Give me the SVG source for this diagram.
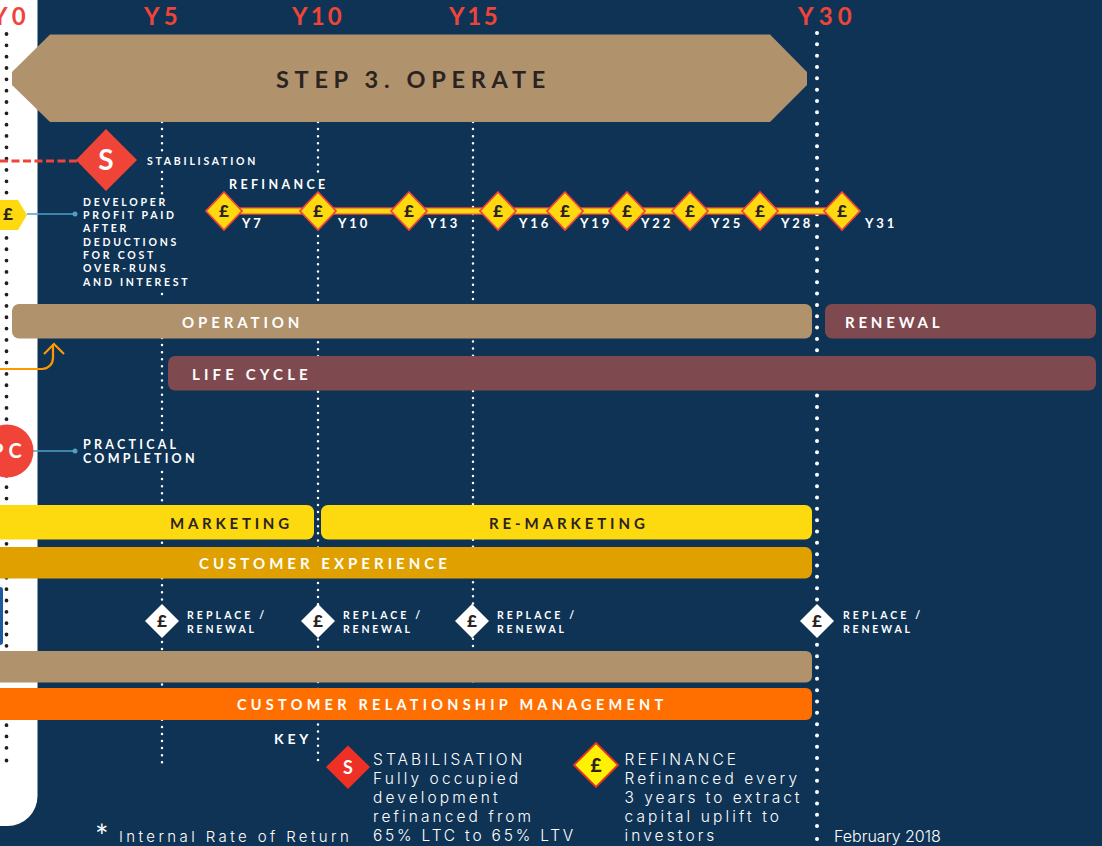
<svg xmlns="http://www.w3.org/2000/svg" width="1102" height="846" viewBox="0 0 1102 846">
<style>
text{font-family:"Lato","Liberation Sans",sans-serif;font-weight:700}
.yr{fill:#f04438;font-size:24px;letter-spacing:4.2px}
.wl{fill:#fff;font-size:10.500px;letter-spacing:2.750px}
.rp{fill:#fff;font-size:10.500px;letter-spacing:3.100px}
.rn{letter-spacing:2.800px}
.bar{font-size:15px;letter-spacing:3.900px;fill:#fff}
.dk{fill:#2a2320}
.ykey{fill:#fff;font-size:13px;letter-spacing:2.900px}
.key{fill:#fff;font-family:"Inter","Liberation Sans",sans-serif;font-weight:300;font-size:15.500px;letter-spacing:3.100px}
.pd{font-size:17px;font-weight:900;fill:#2a2320;text-anchor:middle}
.ref{fill:#ffd910;stroke:#f04438;stroke-width:1.800}
.wh{stroke:#fff;stroke-width:2.500;stroke-linecap:round;stroke-dasharray:0 7.080;fill:none}
.wb{stroke:#fff;stroke-width:4;stroke-linecap:round;stroke-dasharray:0 11.330;fill:none}
.bk{stroke:#231f20;stroke-width:3.800;stroke-linecap:round;stroke-dasharray:0 11.330;fill:none}
.bl{stroke:#4ea0c8;stroke-width:1.400;fill:none}
</style>
<rect width="1102" height="846" fill="#0f3355"/>
<path d="M0 0H37.500V796a30 30 0 0 1-30 30H0Z" fill="#fff"/>
<g id="connectors">
<path class="bk" d="M6.500 34V750M6.500 760.500V761"/>
<path class="wh" d="M162 122V152M162 172V194M162 294V295M162 338V431M162 472V764"/>
<path class="wh" d="M318 122V173M318 236V764"/>
<path class="wh" d="M473 122V684"/>
<path class="wb" d="M817 33V827M817 839V840"/>
<path d="M0 161H78" stroke="#f04438" stroke-width="2.800" stroke-dasharray="8 3.500" fill="none"/>
<path class="bl" d="M27 214H75M33 451H75"/>
<circle cx="75" cy="214" r="2.500" fill="#4ea0c8"/>
<circle cx="75" cy="451" r="2.500" fill="#4ea0c8"/>
<path d="M0 369H42a11 11 0 0 0 11-11V344M44 354L54 344L64 354" stroke="#ff9800" stroke-width="2.200" fill="none"/>
<path d="M224 211H842" stroke="#f04438" stroke-width="7.500" fill="none"/>
<path d="M224 211H842" stroke="#ffd910" stroke-width="5" fill="none"/>
</g>
<g id="step3"><path d="M50 34.500H770L807 72V85L770 122H50L12 85V72Z" fill="#b0926d"/><text x="276" y="88" class="dk" style="font-size:23.500px;letter-spacing:5.700px">STEP 3. OPERATE</text></g>
<g id="year-labels">
<text x="-8" y="25" class="yr">Y0</text><text x="144" y="25" class="yr">Y5</text><text x="292" y="25" class="yr" style="letter-spacing:3.200px">Y10</text><text x="449" y="25" class="yr" style="letter-spacing:2.600px">Y15</text><text x="798" y="25" class="yr" style="letter-spacing:5.200px">Y30</text>
</g>
<g id="stabilisation"><path d="M106 129L137 160L106 191L76 160Z" fill="#f04438"/><text x="106" y="170" fill="#fff" text-anchor="middle" style="font-size:28px">S</text><text x="147" y="165" class="wl">STABILISATION</text></g>
<g id="developer-profit"><path d="M-6 200H18L27 215L18 230H-6Z" fill="#ffd910"/><text x="8" y="220" class="pd">£</text>
<text class="wl"><tspan x="83" y="206">DEVELOPER</tspan><tspan x="83" y="219">PROFIT PAID</tspan><tspan x="83" y="232">AFTER</tspan><tspan x="83" y="246">DEDUCTIONS</tspan><tspan x="83" y="259">FOR COST</tspan><tspan x="83" y="272">OVER-RUNS</tspan><tspan x="83" y="286">AND INTEREST</tspan></text></g>
<g id="refinance">
<text x="229" y="189" fill="#fff" style="font-size:12.500px;letter-spacing:3.350px">REFINANCE</text>
<g id="r7"><path class="ref" d="M224 192L242 211L224 230L206 211Z"/><text x="224" y="217" class="pd">£</text><text x="242" y="228" class="ykey">Y7</text></g>
<g id="r10"><path class="ref" d="M318 192L336 211L318 230L300 211Z"/><text x="318" y="217" class="pd">£</text><text x="338" y="228" class="ykey">Y10</text></g>
<g id="r13"><path class="ref" d="M409 192L427 211L409 230L391 211Z"/><text x="409" y="217" class="pd">£</text><text x="428" y="228" class="ykey">Y13</text></g>
<g id="r16"><path class="ref" d="M498 192L516 211L498 230L480 211Z"/><text x="498" y="217" class="pd">£</text><text x="519" y="228" class="ykey">Y16</text></g>
<g id="r19"><path class="ref" d="M565 192L583 211L565 230L547 211Z"/><text x="565" y="217" class="pd">£</text><text x="580" y="228" class="ykey">Y19</text></g>
<g id="r22"><path class="ref" d="M627 192L645 211L627 230L609 211Z"/><text x="627" y="217" class="pd">£</text><text x="641" y="228" class="ykey">Y22</text></g>
<g id="r25"><path class="ref" d="M690 192L708 211L690 230L672 211Z"/><text x="690" y="217" class="pd">£</text><text x="711" y="228" class="ykey">Y25</text></g>
<g id="r28"><path class="ref" d="M760 192L778 211L760 230L742 211Z"/><text x="760" y="217" class="pd">£</text><text x="781" y="228" class="ykey">Y28</text></g>
<g id="r31"><path class="ref" d="M842 192L860 211L842 230L824 211Z"/><text x="842" y="217" class="pd">£</text><text x="865" y="228" class="ykey">Y31</text></g>
</g>
<g id="operation"><rect x="12" y="304" width="800" height="34.500" rx="7" fill="#b0926d"/><text x="182" y="328" class="bar">OPERATION</text></g>
<g id="renewal"><rect x="825" y="304" width="271" height="34.500" rx="7" fill="#7f4a4f"/><text x="845" y="328" class="bar" style="letter-spacing:3.800px">RENEWAL</text></g>
<g id="life-cycle"><rect x="168" y="356" width="928" height="34.500" rx="7" fill="#7f4a4f"/><text x="192" y="380" class="bar" style="letter-spacing:4.150px">LIFE CYCLE</text></g>
<g id="pc"><circle cx="7" cy="451" r="26.500" fill="#f04438"/><text x="-9" y="458" fill="#fff" style="font-size:20px;letter-spacing:5px">PC</text>
<text style="fill:#fff;font-size:12.500px;letter-spacing:3.250px"><tspan x="83" y="449">PRACTICAL</tspan><tspan x="83" y="463">COMPLETION</tspan></text></g>
<g id="marketing"><rect x="-10" y="505" width="324" height="34.500" rx="7" fill="#fdd90f"/><text x="170" y="529" class="bar dk" style="letter-spacing:3.750px">MARKETING</text></g>
<g id="re-marketing"><rect x="321" y="505" width="491" height="34.500" rx="7" fill="#fdd90f"/><text x="489" y="529" class="bar dk">RE-MARKETING</text></g>
<g id="customer-experience"><rect x="-10" y="547" width="822" height="31.500" rx="7" fill="#e0a100"/><text x="199" y="569" class="bar" style="letter-spacing:4.020px">CUSTOMER EXPERIENCE</text></g>
<rect x="-6" y="587" width="9" height="58" rx="3" fill="#1d5a9c"/>
<g id="replace-5"><path d="M162 604L179 621L162 638L145 621Z" fill="#fff"/><text x="162" y="627" class="pd">£</text><text class="rp"><tspan x="187" y="619">REPLACE /</tspan><tspan x="187" y="633" class="rn">RENEWAL</tspan></text></g>
<g id="replace-10"><path d="M318 604L335 621L318 638L301 621Z" fill="#fff"/><text x="318" y="627" class="pd">£</text><text class="rp"><tspan x="343" y="619">REPLACE /</tspan><tspan x="343" y="633" class="rn">RENEWAL</tspan></text></g>
<g id="replace-15"><path d="M472 604L489 621L472 638L455 621Z" fill="#fff"/><text x="472" y="627" class="pd">£</text><text class="rp"><tspan x="497" y="619">REPLACE /</tspan><tspan x="497" y="633" class="rn">RENEWAL</tspan></text></g>
<g id="replace-30"><path d="M817 604L834 621L817 638L800 621Z" fill="#fff"/><text x="817" y="627" class="pd">£</text><text class="rp"><tspan x="843" y="619">REPLACE /</tspan><tspan x="843" y="633" class="rn">RENEWAL</tspan></text></g>
<g id="band"><rect x="-10" y="651" width="822" height="31.500" rx="6" fill="#b0926d"/></g>
<g id="crm"><rect x="-10" y="688" width="822" height="32" rx="6" fill="#ff6f00"/><text x="237" y="710" class="bar" style="font-size:14.500px;letter-spacing:4.250px">CUSTOMER RELATIONSHIP MANAGEMENT</text></g>
<g id="key"><text x="274" y="744" fill="#fff" style="font-size:14px;letter-spacing:3.800px">KEY</text>
<path d="M348 745.500L370 767L348 789L326 767Z" fill="#ee3124"/><text x="348" y="774" text-anchor="middle" fill="#fff" style="font-size:18px">S</text>
<text class="key"><tspan x="373" y="765">STABILISATION</tspan><tspan x="373" y="784">Fully occupied</tspan><tspan x="373" y="803">development</tspan><tspan x="373" y="822">refinanced from</tspan><tspan x="373" y="841" style="letter-spacing:2.800px">65% LTC to 65% LTV</tspan></text>
<path d="M596 743L618 765L596 787L574 765Z" fill="#fff200" stroke="#ee3124" stroke-width="1.800"/><text x="596" y="772" class="pd" style="font-size:19px">£</text>
<text class="key"><tspan x="624.500" y="765">REFINANCE</tspan><tspan x="624.500" y="784">Refinanced every</tspan><tspan x="624.500" y="803" style="letter-spacing:2.950px">3 years to extract</tspan><tspan x="624.500" y="822">capital uplift to</tspan><tspan x="624.500" y="841">investors</tspan></text></g>
<g id="footer"><text x="95" y="848" fill="#fff" style="font-size:32px;font-weight:400">*</text><text x="119" y="842" class="key" style="font-size:15px;letter-spacing:3.400px">Internal Rate of Return</text>
<text x="834" y="842" fill="#fff" style="font-family:'Inter','Liberation Sans',sans-serif;font-weight:300;font-size:16px;letter-spacing:0">February 2018</text></g>
</svg>
